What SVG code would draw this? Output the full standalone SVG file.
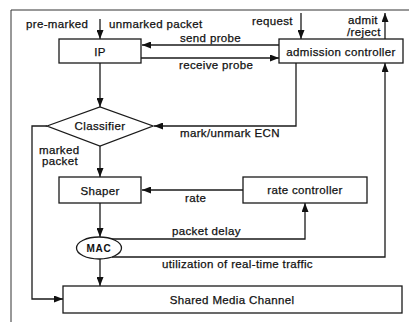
<svg xmlns="http://www.w3.org/2000/svg" width="409" height="326" viewBox="0 0 409 326">
  <style>
    .frame { fill: none; stroke: #333; stroke-width: 1; }
    .box { fill: #fff; stroke: #1a1a1a; stroke-width: 1.3; }
    .line { fill: none; stroke: #1a1a1a; stroke-width: 1.3; }
    .arrow { marker-end: url(#head); }
    text { font-family: "Liberation Sans", Arial, sans-serif; font-size: 11.5px; fill: #111; stroke: #111; stroke-width: 0.25px; letter-spacing: 0.35px; }
    .c { text-anchor: middle; }
    .small { font-size: 10px; font-weight: bold; letter-spacing: 0.8px; stroke-width: 0; }
  </style>
  <defs>
    <marker id="head" markerUnits="userSpaceOnUse" markerWidth="9" markerHeight="7" refX="9" refY="3.5" orient="auto">
      <path d="M0,0 L9,3.5 L0,7 z" fill="#111"/>
    </marker>
  </defs>
  <rect width="409" height="326" fill="#fff"/>

  <!-- page frame (top and left rules) -->
  <path class="frame" d="M11,322 L11,10 L409,10"/>

  <g id="connectors">
    <path class="line arrow" d="M100,19 L100,39"/>
    <path class="line arrow" d="M301,13 L301,39"/>
    <path class="line arrow" d="M385,39 L385,13"/>
    <path class="line arrow" d="M279,45 L142,45"/>
    <path class="line arrow" d="M141,58 L279,58"/>
    <path class="line arrow" d="M100,63 L100,107"/>
    <path class="line arrow" d="M296,63 L296,126 L154,126"/>
    <path class="line arrow" d="M47,126 L32,126 L32,299 L63,299"/>
    <path class="line arrow" d="M100,146 L100,177"/>
    <path class="line arrow" d="M243,190 L142,190"/>
    <path class="line arrow" d="M100,203 L100,237"/>
    <path class="line arrow" d="M112,239 L305,239 L305,203"/>
    <path class="line arrow" d="M112,257 L385,257 L385,63"/>
    <path class="line arrow" d="M100,259 L100,286"/>
  </g>

  <g id="labels">
    <text x="26" y="28">pre-marked</text>
    <text x="109" y="28">unmarked packet</text>
    <text x="252" y="25">request</text>
    <text x="348" y="24">admit</text>
    <text x="347" y="36">/reject</text>
    <text x="180" y="42">send probe</text>
    <text x="179" y="69">receive probe</text>
    <text x="180" y="137">mark/unmark ECN</text>
    <text x="39" y="154">marked</text>
    <text x="42" y="165">packet</text>
    <text x="185" y="202">rate</text>
    <text x="172" y="235">packet delay</text>
    <text x="162" y="268">utilization of real-time traffic</text>
  </g>

  <g id="ip">
    <rect class="box" x="59" y="39" width="82" height="24"/>
    <text class="c" x="100" y="56">IP</text>
  </g>

  <g id="admission-controller">
    <rect class="box" x="279" y="39" width="124" height="24"/>
    <text class="c" x="341" y="56">admission controller</text>
  </g>

  <g id="classifier">
    <polygon class="box" points="47,126 100,107 153,126 100,146"/>
    <text class="c" x="100" y="130">Classifier</text>
  </g>

  <g id="shaper">
    <rect class="box" x="59" y="177" width="82" height="26"/>
    <text class="c" x="100" y="195">Shaper</text>
  </g>

  <g id="rate-controller">
    <rect class="box" x="243" y="177" width="124" height="26"/>
    <text class="c" x="305" y="194">rate controller</text>
  </g>

  <g id="mac">
    <ellipse class="box" cx="99" cy="248" rx="22.5" ry="11"/>
    <text class="c small" x="99" y="251.5">MAC</text>
  </g>

  <g id="shared-media-channel">
    <rect class="box" x="63" y="286" width="339" height="27"/>
    <text class="c" x="232" y="304">Shared Media Channel</text>
  </g>
</svg>
